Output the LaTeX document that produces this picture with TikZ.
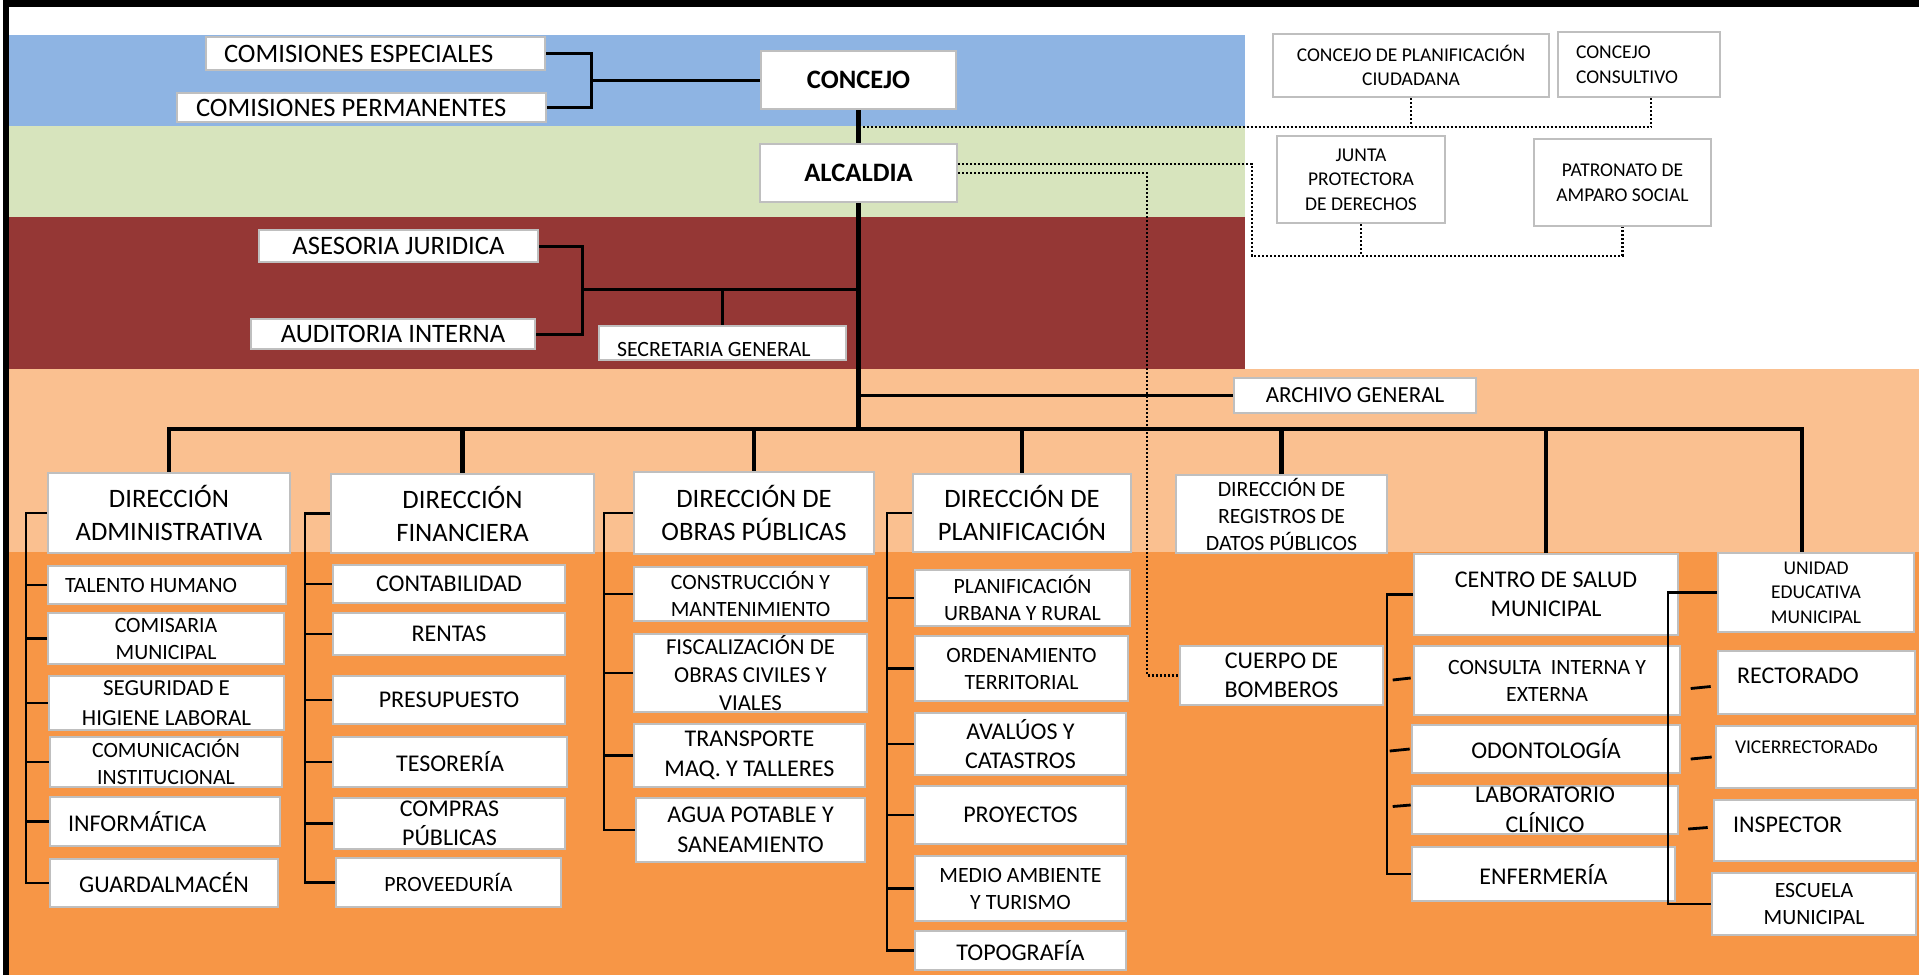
\documentclass[tikz,border=0pt]{standalone}
\usepackage{fontspec}
\setmainfont{Carlito}
\usepackage{tikz}

\definecolor{bandblue}{HTML}{8EB4E3}
\definecolor{bandgreen}{HTML}{D7E4BD}
\definecolor{bandred}{HTML}{953735}
\definecolor{bandpeach}{HTML}{FAC090}
\definecolor{bandorange}{HTML}{F79646}
\definecolor{boxgray}{HTML}{BFBFBF}

\begin{document}
\begin{tikzpicture}[x=1pt,y=-1pt,
    box/.style={draw=boxgray,line width=2.6pt,fill=white,inner sep=0pt,align=center},
    spanbox/.style n args={4}{at={({(#1+#3)/2},{(#2+#4)/2})},minimum width={#3-#1},minimum height={#4-#2}},
    lefttext/.style={text width=#1,align=flush left,execute at begin node={\spaceskip=0pt\relax}},
    txtbold/.style={font=\fontsize{26.6}{33}\selectfont\bfseries},
    txttitle/.style={font=\fontsize{26.6}{33}\selectfont},
    txtmid/.style={font=\fontsize{24}{29.5}\selectfont},
    txtsm/.style={font=\fontsize{21.8}{27}\selectfont},
    txtxs/.style={font=\fontsize{19.5}{24.5}\selectfont},
    link/.style={line width=3pt},
    bar/.style={line width=4.5pt},
    sub/.style={line width=2.8pt},
    dotline/.style={line width=2.2pt,dash pattern=on 2pt off 2pt}]

\useasboundingbox (0,0) rectangle (1919,975);
% bands
\fill[white] (0,0) rectangle (1919,975);
\fill[bandblue] (9,35) rectangle (1245,126);
\fill[bandgreen] (9,126) rectangle (1245,217);
\fill[bandred] (9,217) rectangle (1245,369);
\fill[bandpeach] (9,369) rectangle (1919,552);
\fill[bandorange] (9,552) rectangle (1919,975);
\draw[line width=6.5pt] (6,975) -- (6,3.25) -- (1919,3.25);

% concejo, comisiones, alcaldia
\node[box,txttitle,lefttext=303pt,spanbox={206}{37}{545}{70}] (esp) {COMISIONES ESPECIALES};
\node[box,txttitle,lefttext=331pt,spanbox={177}{93}{546}{122}] (per) {COMISIONES PERMANENTES};
\node[box,txtbold,spanbox={761}{51}{956}{109}] (concejo) {CONCEJO};
\node[box,txtbold,spanbox={760}{144}{957}{202}] (alcaldia) {ALCALDIA};
\node[box,txtxs,spanbox={1273}{34}{1549}{97}] (cpc) {CONCEJO DE PLANIFICACIÓN\\CIUDADANA};
\node[box,txtxs,lefttext=126pt,spanbox={1558}{32}{1720}{97}] (cco) {CONCEJO\\CONSULTIVO};
\node[box,txtxs,spanbox={1277}{136}{1445}{223}] (jun) {JUNTA\\PROTECTORA\\DE DERECHOS};
\node[box,txtxs,spanbox={1534}{139}{1711}{226}] (pat) {PATRONATO DE\\AMPARO SOCIAL};

% asesoria
\node[box,txttitle,spanbox={259}{230}{538}{262}] (ase) {ASESORIA JURIDICA};
\node[box,txttitle,spanbox={251}{319}{535}{349}] (aud) {AUDITORIA INTERNA};
\node[box,txtsm,lefttext=211pt,text height=26pt,text depth=0pt,spanbox={599}{326}{846}{360}] (sec) {SECRETARIA GENERAL};
\node[box,font=\fontsize{23}{28}\selectfont,spanbox={1234}{378}{1476}{413}] (arc) {ARCHIVO GENERAL};

% direcciones
\node[box,txttitle,spanbox={48}{473}{290}{553}] (adm) {DIRECCIÓN\\ADMINISTRATIVA};
\node[box,txttitle,spanbox={331}{474}{594}{553}] (fin) {DIRECCIÓN\\FINANCIERA};
\node[box,txttitle,spanbox={634}{472}{874}{554}] (obr) {DIRECCIÓN DE\\OBRAS PÚBLICAS};
\node[box,txttitle,spanbox={913}{474}{1131}{552}] (pla) {DIRECCIÓN DE\\PLANIFICACIÓN};
\node[box,txtsm,spanbox={1176}{475}{1387}{553}] (reg) {DIRECCIÓN DE\\REGISTROS DE\\DATOS PÚBLICOS};
\node[box,txtmid,spanbox={1414}{554}{1678}{635}] (sal) {CENTRO DE SALUD\\MUNICIPAL};
\node[box,txtxs,spanbox={1718}{553}{1914}{632}] (uni) {UNIDAD\\EDUCATIVA\\MUNICIPAL};
\node[box,txtmid,spanbox={1180}{646}{1383}{705}] (bom) {CUERPO DE\\BOMBEROS};

% administrativa
\node[box,txtsm,lefttext=204pt,spanbox={48}{566}{286}{604}] (tal) {TALENTO HUMANO};
\node[box,txtsm,spanbox={48}{613}{284}{664}] (cms) {COMISARIA\\MUNICIPAL};
\node[box,font=\fontsize{23}{30}\selectfont,spanbox={49}{676}{284}{730}] (seg) {SEGURIDAD E\\HIGIENE LABORAL};
\node[box,txtsm,spanbox={50}{737}{282}{787}] (cmu) {COMUNICACIÓN\\INSTITUCIONAL};
\node[box,txtmid,lefttext=194pt,spanbox={50}{797}{280}{846}] (inf) {INFORMÁTICA};
\node[box,txtmid,spanbox={50}{859}{278}{907}] (gua) {GUARDALMACÉN};

% financiera
\node[box,txtmid,spanbox={333}{565}{565}{603}] (con) {CONTABILIDAD};
\node[box,txtmid,spanbox={333}{613}{565}{655}] (ren) {RENTAS};
\node[box,txtmid,spanbox={333}{676}{565}{724}] (pre) {PRESUPUESTO};
\node[box,txtmid,spanbox={333}{737}{567}{787}] (tes) {TESORERÍA};
\node[box,txtmid,spanbox={334}{798}{565}{849}] (cpu) {COMPRAS\\PÚBLICAS};
\node[box,txtsm,spanbox={336}{858}{561}{907}] (prv) {PROVEEDURÍA};

% obras publicas
\node[box,txtsm,spanbox={634}{567}{867}{621}] (cym) {CONSTRUCCIÓN Y\\MANTENIMIENTO};
\node[box,font=\fontsize{22.8}{28}\selectfont,spanbox={634}{634}{867}{712}] (fis) {FISCALIZACIÓN DE\\OBRAS CIVILES Y\\VIALES};
\node[box,txtmid,spanbox={634}{724}{865}{787}] (tra) {TRANSPORTE\\MAQ. Y TALLERES};
\node[box,txtmid,spanbox={636}{798}{865}{862}] (agu) {AGUA POTABLE Y\\SANEAMIENTO};

% planificacion
\node[box,txtsm,spanbox={915}{570}{1130}{626}] (pur) {PLANIFICACIÓN\\URBANA Y RURAL};
\node[box,txtsm,spanbox={915}{636}{1128}{701}] (ord) {ORDENAMIENTO\\TERRITORIAL};
\node[box,txtmid,spanbox={915}{713}{1126}{775}] (ava) {AVALÚOS Y\\CATASTROS};
\node[box,txtmid,spanbox={915}{786}{1126}{844}] (prj) {PROYECTOS};
\node[box,txtsm,spanbox={915}{856}{1126}{921}] (med) {MEDIO AMBIENTE\\Y TURISMO};
\node[box,txtmid,spanbox={915}{931}{1126}{970}] (topo) {TOPOGRAFÍA};

% salud
\node[box,txtsm,spanbox={1414}{646}{1680}{715}] (cie) {CONSULTA\ \ INTERNA Y\\EXTERNA};
\node[box,txtmid,spanbox={1412}{725}{1680}{773}] (odo) {ODONTOLOGÍA};
\node[box,txtmid,spanbox={1412}{786}{1678}{834}] (lab) {LABORATORIO\\CLÍNICO};
\node[box,txtmid,spanbox={1412}{847}{1675}{901}] (enf) {ENFERMERÍA};

% unidad educativa
\node[box,txtmid,lefttext=159pt,text height=9pt,text depth=7pt,spanbox={1718}{651}{1915}{714}] (rec) {RECTORADO};
\node[box,txtxs,lefttext=162pt,text height=6pt,text depth=13.4pt,spanbox={1716}{726}{1916}{788}] (vic) {VICERRECTORADo};
\node[box,txtmid,lefttext=164pt,text height=9pt,text depth=4.5pt,spanbox={1714}{800}{1916}{861}] (ins) {INSPECTOR};
\node[box,txtsm,spanbox={1712}{873}{1916}{935}] (esc) {ESCUELA\\MUNICIPAL};

% lineas superiores
\coordinate (comj) at (591,80);
\draw[link] (esp.east) -| (comj) |- (per.east);
\draw[link] (comj) -- (concejo.west);
\draw[bar] (concejo.south) -- (alcaldia.north);
\coordinate (asej) at (582,289);
\draw[link] (ase.east) -| (asej) |- (aud.east);
\draw[link] (asej) -- (asej -| alcaldia.south);
\draw[link] (sec.north) -- (sec.north |- asej);

% tronco y barra principal
\coordinate (barL) at (169,429);
\coordinate (barR) at (1802,429);
\draw[bar] (alcaldia.south) -- (alcaldia.south |- barL);
\draw[bar,line cap=rect] (barL) -- (barR);
\draw[link] (arc.west) -- (arc.west -| alcaldia.south);
\foreach \n in {adm,fin,obr,pla,reg,sal}{
    \draw[bar] (\n.north |- barL) -- (\n.north);
}
\draw[bar] (barR) -- (barR |- uni.north);

% llaves de cada direccion
\coordinate (admx) at (26,0);
\coordinate (finx) at (305,0);
\coordinate (obrx) at (604,0);
\coordinate (plax) at (887,0);
\coordinate (salx) at (1387,0);
\coordinate (unix) at (1668,0);
\draw[sub] (adm.west) -- (adm.west -| admx) |- (gua.west);
\draw[sub] (fin.west) -- (fin.west -| finx) |- (prv.west);
\draw[sub] (obr.west) -- (obr.west -| obrx) |- (agu.west);
\draw[sub] (pla.west) -- (pla.west -| plax) |- (topo.west);
\draw[sub] (sal.west) -- (sal.west -| salx) |- (enf.west);
\draw[sub] (uni.west) -- (uni.west -| unix) |- (esc.west);
\foreach \n in {tal,cms,seg,cmu,inf}{
    \draw[sub] (\n.west) -- (\n.west -| admx);
}
\foreach \n in {con,ren,pre,tes,cpu}{
    \draw[sub] (\n.west) -- (\n.west -| finx);
}
\foreach \n in {cym,fis,tra}{
    \draw[sub] (\n.west) -- (\n.west -| obrx);
}
\foreach \n in {pur,ord,ava,prj,med}{
    \draw[sub] (\n.west) -- (\n.west -| plax);
}
% trazos sueltos
\draw[sub] ([xshift=-2pt,yshift=2.5pt]cie.west) -- ++(-18,2);
\draw[sub] ([xshift=-1pt]odo.west) -- ++(-20,2);
\draw[sub] ([yshift=5pt]lab.west) -- ++(-18,1.5);
\draw[sub] ([xshift=-6pt,yshift=-4pt]rec.west) -- ++(-20,2);
\draw[sub] ([xshift=-3pt]vic.west) -- ++(-21,2);
\draw[sub] ([xshift=-5pt,yshift=3pt]ins.west) -- ++(-19.5,1.5);

% punteadas
\coordinate (dotA) at (1651,127);
\draw[dotline] ([xshift=4pt]concejo.south |- dotA) -- (dotA) -- (dotA |- cco.south);
\draw[dotline] (cpc.south) -- (cpc.south |- dotA);
\coordinate (dotB) at (1252,256);
\draw[dotline] ([yshift=9pt]alcaldia.east) -| (dotB) -| (pat.south);
\draw[dotline] (jun.south) -- (jun.south |- dotB);
\coordinate (dotC) at (1147,0);
\draw[dotline] (alcaldia.east) -| (dotC |- bom.west) -- (bom.west);
\end{tikzpicture}
\end{document}
